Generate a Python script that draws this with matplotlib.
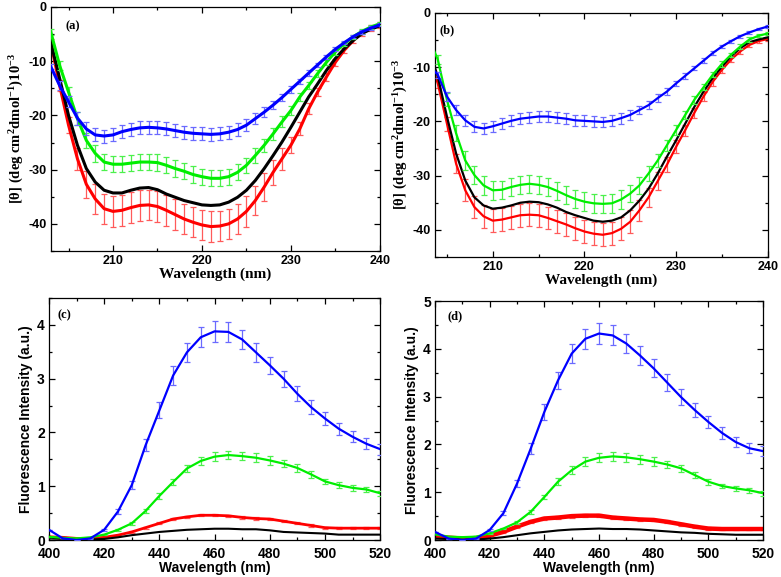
import matplotlib
matplotlib.use('Agg')
import matplotlib.pyplot as plt
from matplotlib.ticker import MultipleLocator

plt.rcParams['axes.unicode_minus'] = False
plt.rcParams['mathtext.default'] = 'regular'

# CD spectra, wavelength 203..240 nm, values in deg cm2 dmol-1 x 10^-3
wl_cd = list(range(203, 241))

a_black = [-6.5, -13.2, -20.0, -25.5, -29.8, -32.3, -33.8, -34.3, -34.3, -33.8,
           -33.4, -33.3, -33.7, -34.5, -35.1, -35.7, -36.1, -36.5, -36.6, -36.5,
           -36.0, -35.1, -33.8, -32.0, -29.8, -27.4, -24.9, -22.2, -19.4, -16.6,
           -14.2, -11.7, -9.5, -7.7, -6.2, -4.9, -4.1, -3.5]
a_red = [-6.5, -14.5, -21.8, -28.0, -32.7, -35.4, -37.2, -37.7, -37.5, -37.0,
         -36.6, -36.5, -36.8, -37.5, -38.3, -39.1, -39.7, -40.2, -40.5, -40.4,
         -40.0, -39.1, -37.7, -35.7, -33.2, -30.5, -28.0, -25.5, -22.5, -18.8,
         -15.7, -12.9, -10.2, -8.0, -6.2, -4.8, -3.9, -3.3]
a_green = [-4.6, -10.8, -15.7, -20.6, -24.6, -27.0, -28.6, -29.0, -29.0, -28.8,
           -28.6, -28.6, -28.7, -29.2, -29.8, -30.3, -30.9, -31.3, -31.6, -31.6,
           -31.3, -30.5, -29.2, -27.4, -25.5, -23.4, -21.2, -19.1, -16.6, -14.5,
           -12.3, -10.2, -8.3, -6.8, -5.5, -4.5, -3.7, -3.1]
a_blue = [-11.0, -14.5, -17.5, -20.5, -22.5, -23.6, -23.8, -23.6, -23.0, -22.6,
          -22.3, -22.2, -22.3, -22.5, -22.8, -23.1, -23.3, -23.4, -23.5, -23.4,
          -23.1, -22.6, -21.8, -20.6, -19.4, -18.1, -16.7, -15.2, -13.7, -12.2,
          -10.7, -9.2, -7.8, -6.6, -5.5, -4.6, -3.9, -3.3]
a_red_err = [0.5, 1.0, 1.5, 2.0, 2.5, 2.8, 2.8, 2.8, 2.8, 2.8,
             2.8, 2.8, 2.8, 2.8, 2.8, 2.8, 2.8, 2.8, 2.8, 2.8,
             2.8, 2.8, 2.8, 2.6, 2.5, 2.3, 2.0, 1.5, 1.2, 1.0,
             0.8, 0.7, 0.6, 0.5, 0.5, 0.5, 0.5, 0.5]
a_green_err = [0.5, 0.8, 1.0, 1.2, 1.4, 1.5, 1.5, 1.5, 1.5, 1.5,
               1.5, 1.5, 1.5, 1.5, 1.5, 1.5, 1.5, 1.5, 1.5, 1.5,
               1.5, 1.5, 1.4, 1.3, 1.2, 1.1, 1.0, 0.9, 0.8, 0.7,
               0.6, 0.5, 0.5, 0.4, 0.4, 0.4, 0.3, 0.3]
a_blue_err = [0.5, 0.8, 1.0, 1.2, 1.2, 1.2, 1.2, 1.2, 1.2, 1.2,
              1.2, 1.2, 1.2, 1.2, 1.2, 1.2, 1.2, 1.2, 1.2, 1.2,
              1.2, 1.2, 1.1, 1.0, 0.9, 0.8, 0.7, 0.6, 0.5, 0.5,
              0.4, 0.4, 0.4, 0.3, 0.3, 0.3, 0.3, 0.3]

b_black = [-6.5, -11.7, -19.1, -25.9, -30.9, -34.0, -35.5, -36.1, -35.9, -35.5,
           -35.0, -34.8, -34.9, -35.3, -35.9, -36.7, -37.3, -37.8, -38.3, -38.5,
           -38.3, -37.7, -36.4, -34.6, -32.4, -29.6, -26.5, -23.5, -20.4, -17.3,
           -14.5, -12.0, -9.9, -8.0, -6.5, -5.4, -4.9, -4.5]
b_red = [-8.0, -13.0, -20.4, -27.8, -32.7, -35.8, -37.5, -38.3, -38.1, -37.7,
         -37.3, -37.2, -37.3, -37.8, -38.4, -39.0, -39.7, -40.3, -40.7, -40.9,
         -40.6, -39.8, -38.5, -36.4, -34.0, -31.0, -28.0, -24.7, -21.6, -18.4,
         -15.4, -12.7, -10.5, -8.6, -7.1, -5.9, -5.2, -4.8]
b_green = [-4.5, -8.6, -16.0, -22.2, -27.2, -29.9, -31.8, -32.7, -32.6, -32.1,
           -31.7, -31.5, -31.7, -32.1, -32.8, -33.6, -34.3, -34.8, -35.1, -35.2,
           -35.1, -34.4, -33.3, -31.8, -29.6, -27.2, -24.4, -21.6, -18.8, -16.0,
           -13.7, -11.4, -9.4, -7.7, -6.2, -4.9, -4.2, -3.8]
b_blue = [-9.5, -11.4, -15.4, -17.9, -19.8, -21.0, -21.3, -20.9, -20.4, -19.9,
          -19.5, -19.3, -19.1, -19.1, -19.3, -19.5, -19.8, -19.9, -20.0, -20.1,
          -19.9, -19.4, -18.8, -17.9, -17.0, -15.7, -14.5, -13.0, -11.6, -10.2,
          -8.8, -7.4, -6.2, -5.2, -4.3, -3.6, -3.0, -2.5]
b_red_err = [0.5, 0.8, 1.3, 1.7, 2.0, 2.1, 2.1, 2.1, 2.1, 2.1,
             2.1, 2.1, 2.1, 2.1, 2.1, 2.1, 2.1, 2.1, 2.1, 2.1,
             2.1, 2.1, 2.1, 2.0, 1.8, 1.6, 1.4, 1.2, 1.0, 0.9,
             0.8, 0.7, 0.6, 0.5, 0.5, 0.4, 0.4, 0.4]
b_green_err = [0.5, 0.8, 1.2, 1.5, 1.7, 1.7, 1.7, 1.7, 1.7, 1.7,
               1.7, 1.7, 1.7, 1.7, 1.7, 1.7, 1.7, 1.7, 1.7, 1.7,
               1.7, 1.7, 1.6, 1.5, 1.4, 1.2, 1.0, 0.9, 0.8, 0.7,
               0.6, 0.5, 0.5, 0.4, 0.4, 0.4, 0.3, 0.3]
b_blue_err = [0.4, 0.6, 0.8, 1.0, 1.0, 1.0, 1.0, 1.0, 1.0, 1.0,
              1.0, 1.0, 1.0, 1.0, 1.0, 1.0, 1.0, 1.0, 1.0, 1.0,
              1.0, 1.0, 0.9, 0.8, 0.7, 0.7, 0.6, 0.5, 0.5, 0.4,
              0.4, 0.3, 0.3, 0.3, 0.3, 0.3, 0.2, 0.2]

# fluorescence spectra, 400..520 nm every 5 nm
wl_fl = list(range(400, 521, 5))

c_black = [0.03, 0.02, 0.01, 0.01, 0.02, 0.05, 0.09, 0.12, 0.15, 0.17, 0.19, 0.20, 0.21,
           0.21, 0.20, 0.20, 0.18, 0.15, 0.14, 0.13, 0.12, 0.10, 0.10, 0.10, 0.10]
c_red = [0.06, 0.05, 0.03, 0.03, 0.05, 0.09, 0.15, 0.23, 0.31, 0.39, 0.43, 0.46, 0.46,
         0.45, 0.42, 0.40, 0.39, 0.35, 0.31, 0.27, 0.23, 0.22, 0.22, 0.22, 0.22]
c_green = [0.06, 0.04, 0.03, 0.05, 0.10, 0.19, 0.31, 0.54, 0.82, 1.08, 1.33, 1.47, 1.55,
           1.58, 1.56, 1.53, 1.48, 1.42, 1.34, 1.22, 1.09, 1.02, 0.97, 0.94, 0.87]
c_blue = [0.19, 0.03, 0.00, 0.03, 0.19, 0.53, 1.02, 1.76, 2.41, 3.06, 3.49, 3.77, 3.88,
          3.87, 3.73, 3.49, 3.25, 3.00, 2.72, 2.47, 2.26, 2.07, 1.92, 1.79, 1.69]
c_red_err = [0.0, 0.0, 0.0, 0.0, 0.01, 0.01, 0.02, 0.02, 0.02, 0.02, 0.02, 0.02, 0.02,
             0.02, 0.02, 0.02, 0.02, 0.02, 0.02, 0.02, 0.02, 0.02, 0.02, 0.02, 0.02]
c_green_err = [0.0, 0.0, 0.0, 0.01, 0.01, 0.02, 0.03, 0.04, 0.05, 0.06, 0.07, 0.08, 0.08,
               0.08, 0.08, 0.08, 0.08, 0.07, 0.07, 0.06, 0.05, 0.05, 0.05, 0.05, 0.05]
c_blue_err = [0.0, 0.0, 0.0, 0.01, 0.02, 0.04, 0.08, 0.11, 0.15, 0.18, 0.18, 0.19, 0.19,
              0.19, 0.18, 0.18, 0.16, 0.15, 0.14, 0.13, 0.12, 0.11, 0.10, 0.10, 0.10]

d_black = [0.03, 0.02, 0.01, 0.01, 0.03, 0.06, 0.10, 0.14, 0.17, 0.20, 0.22, 0.23, 0.24,
           0.23, 0.23, 0.22, 0.20, 0.18, 0.16, 0.15, 0.13, 0.12, 0.11, 0.11, 0.11]
d_red = [0.07, 0.05, 0.03, 0.04, 0.09, 0.17, 0.28, 0.38, 0.45, 0.47, 0.50, 0.51, 0.51,
         0.47, 0.45, 0.43, 0.42, 0.38, 0.33, 0.28, 0.24, 0.23, 0.23, 0.23, 0.23]
d_green = [0.12, 0.07, 0.06, 0.07, 0.14, 0.24, 0.37, 0.59, 0.90, 1.22, 1.46, 1.64, 1.72,
           1.75, 1.73, 1.69, 1.64, 1.58, 1.50, 1.36, 1.22, 1.13, 1.08, 1.04, 0.98]
d_blue = [0.17, 0.03, 0.00, 0.03, 0.21, 0.56, 1.18, 1.91, 2.68, 3.34, 3.90, 4.21, 4.32,
          4.28, 4.11, 3.86, 3.59, 3.29, 2.99, 2.72, 2.47, 2.24, 2.05, 1.92, 1.86]
d_red_err = [0.0, 0.0, 0.0, 0.0, 0.01, 0.02, 0.03, 0.03, 0.03, 0.03, 0.03, 0.03, 0.03,
             0.03, 0.03, 0.03, 0.03, 0.03, 0.03, 0.03, 0.03, 0.02, 0.02, 0.02, 0.02]
d_green_err = [0.0, 0.0, 0.0, 0.01, 0.01, 0.02, 0.03, 0.04, 0.05, 0.07, 0.08, 0.09, 0.09,
               0.09, 0.09, 0.09, 0.09, 0.08, 0.07, 0.06, 0.06, 0.05, 0.05, 0.05, 0.05]
d_blue_err = [0.0, 0.0, 0.0, 0.01, 0.02, 0.04, 0.08, 0.12, 0.16, 0.18, 0.2, 0.21, 0.21,
              0.21, 0.2, 0.2, 0.19, 0.18, 0.16, 0.15, 0.13, 0.12, 0.11, 0.1, 0.1]

RED, GREEN, BLUE = '#ff0000', '#00ee00', '#0000ff'
ERED, EGREEN, EBLUE = '#ff5a5a', '#4cf04c', '#6a6aff'

serif = dict(family='Liberation Serif', weight='bold')
sans = dict(family='Liberation Sans', weight='bold')


def style(ax, xmaj, xmin, ymaj, ymin, tsize, xpad=3):
    ax.xaxis.set_major_locator(MultipleLocator(xmaj))
    ax.xaxis.set_minor_locator(MultipleLocator(xmin))
    ax.yaxis.set_major_locator(MultipleLocator(ymaj))
    ax.yaxis.set_minor_locator(MultipleLocator(ymin))
    ax.tick_params(which='both', direction='in', top=True, right=True, width=0.9)
    ax.tick_params(which='major', length=4, labelsize=tsize, pad=3)
    ax.tick_params(axis='x', which='major', pad=xpad)
    ax.tick_params(which='minor', length=2)
    for lab in ax.get_xticklabels() + ax.get_yticklabels():
        lab.set_fontfamily('Liberation Sans')
        lab.set_fontweight('bold')
    for s in ax.spines.values():
        s.set_linewidth(0.9)


fig = plt.figure(figsize=(7.81, 5.77), dpi=100)

# (a)
ax = fig.add_axes([0.065, 0.565, 0.4213, 0.423])
ax.plot(wl_cd, a_black, color='black', lw=2.2, zorder=3)
ax.errorbar(wl_cd, a_red, yerr=a_red_err, color=RED, ecolor=ERED, lw=2.2,
            elinewidth=0.9, capsize=2.5, capthick=0.9, zorder=2)
ax.errorbar(wl_cd, a_green, yerr=a_green_err, color=GREEN, ecolor=EGREEN, lw=2.2,
            elinewidth=0.9, capsize=2.5, capthick=0.9, zorder=4)
ax.errorbar(wl_cd, a_blue, yerr=a_blue_err, color=BLUE, ecolor=EBLUE, lw=2.2,
            elinewidth=0.9, capsize=2.5, capthick=0.9, zorder=5)
ax.set_xlim(203, 240)
ax.set_ylim(-45, 0)
style(ax, 10, 5, 10, 5, 9)
ax.set_xlabel('Wavelength (nm)', fontsize=11, labelpad=0, **serif)
ax.set_ylabel(r'[θ] (deg cm$^{2}$dmol$^{-1}$)10$^{-3}$', fontsize=10.5, labelpad=2, **serif)
ax.text(0.045, 0.91, '(a)', transform=ax.transAxes, fontsize=9, **serif)

# (b)
ax = fig.add_axes([0.557, 0.5546, 0.426, 0.423])
ax.plot(wl_cd, b_black, color='black', lw=1.6, zorder=3)
ax.errorbar(wl_cd, b_red, yerr=b_red_err, color=RED, ecolor=ERED, lw=1.6,
            elinewidth=0.9, capsize=2.5, capthick=0.9, zorder=2)
ax.errorbar(wl_cd, b_green, yerr=b_green_err, color=GREEN, ecolor=EGREEN, lw=1.6,
            elinewidth=0.9, capsize=2.5, capthick=0.9, zorder=4)
ax.errorbar(wl_cd, b_blue, yerr=b_blue_err, color=BLUE, ecolor=EBLUE, lw=1.6,
            elinewidth=0.9, capsize=2.5, capthick=0.9, zorder=5)
ax.set_xlim(203.7, 240)
ax.set_ylim(-45, 0)
style(ax, 10, 5, 10, 5, 9)
ax.set_xlabel('Wavelength (nm)', fontsize=11, labelpad=0, **serif)
ax.set_ylabel(r'[θ] (deg cm$^{2}$dmol$^{-1}$)10$^{-3}$', fontsize=10.5, labelpad=2, **serif)
ax.text(0.012, 0.915, '(b)', transform=ax.transAxes, fontsize=9, **serif)

# (c)
ax = fig.add_axes([0.0627, 0.0641, 0.424, 0.4194])
ax.plot(wl_fl, c_black, color='black', lw=1.5, zorder=3)
ax.errorbar(wl_fl, c_red, yerr=c_red_err, color=RED, ecolor=ERED, lw=2.0,
            elinewidth=0.9, capsize=2.5, capthick=0.9, zorder=2)
ax.errorbar(wl_fl, c_green, yerr=c_green_err, color=GREEN, ecolor=EGREEN, lw=1.6,
            elinewidth=0.9, capsize=2.5, capthick=0.9, zorder=4)
ax.errorbar(wl_fl, c_blue, yerr=c_blue_err, color=BLUE, ecolor=EBLUE, lw=1.6,
            elinewidth=0.9, capsize=2.5, capthick=0.9, zorder=5)
ax.set_xlim(400, 520)
ax.set_ylim(0, 4.5)
style(ax, 20, 10, 1, 0.5, 10, xpad=5)
ax.set_xlabel('Wavelength (nm)', fontsize=10, labelpad=0, **sans)
ax.set_ylabel('Fluorescence Intensity (a.u.)', fontsize=10, labelpad=3, **sans)
ax.text(0.025, 0.915, '(c)', transform=ax.transAxes, fontsize=9, **serif)

# (d)
ax = fig.add_axes([0.557, 0.0641, 0.42, 0.4142])
ax.plot(wl_fl, d_black, color='black', lw=1.5, zorder=3)
ax.errorbar(wl_fl, d_red, yerr=d_red_err, color=RED, ecolor=ERED, lw=3.2,
            elinewidth=0.9, capsize=2.5, capthick=0.9, zorder=2)
ax.errorbar(wl_fl, d_green, yerr=d_green_err, color=GREEN, ecolor=EGREEN, lw=1.6,
            elinewidth=0.9, capsize=2.5, capthick=0.9, zorder=4)
ax.errorbar(wl_fl, d_blue, yerr=d_blue_err, color=BLUE, ecolor=EBLUE, lw=1.6,
            elinewidth=0.9, capsize=2.5, capthick=0.9, zorder=5)
ax.set_xlim(400, 520)
ax.set_ylim(0, 5)
style(ax, 20, 10, 1, 0.5, 10, xpad=5)
ax.set_xlabel('Wavelength (nm)', fontsize=10, labelpad=0, **sans)
ax.set_ylabel('Fluorescence Intensity (a.u.)', fontsize=10, labelpad=3, **sans)
ax.text(0.037, 0.925, '(d)', transform=ax.transAxes, fontsize=9, **serif)

fig.savefig('out.png', dpi=100)
